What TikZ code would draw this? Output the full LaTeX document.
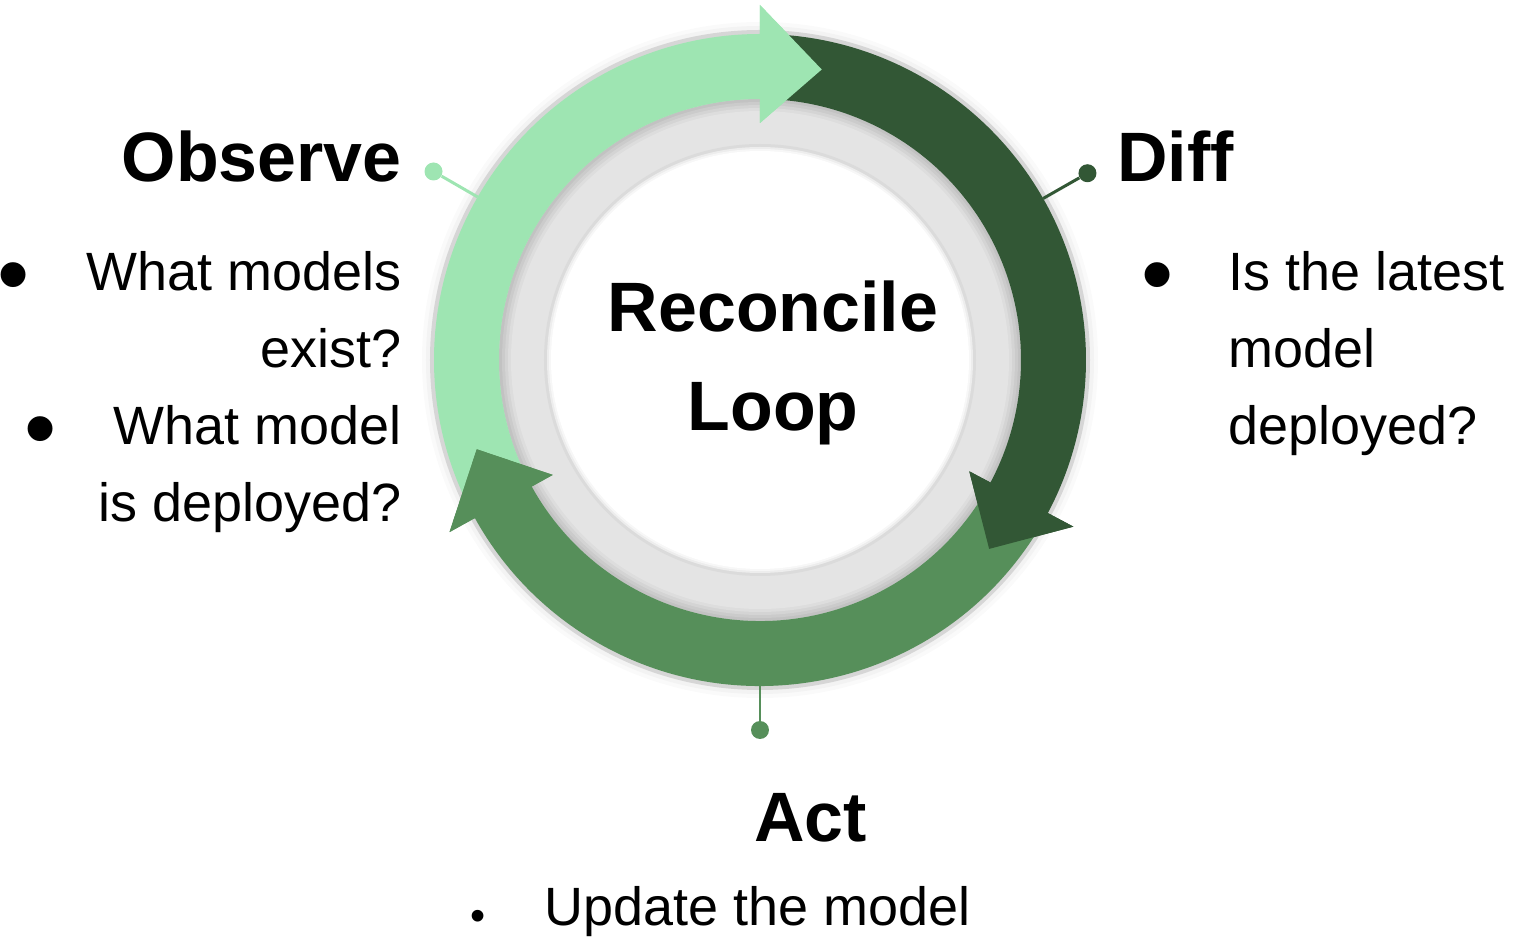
\documentclass[tikz,border=0pt]{standalone}
\usepackage{fontspec}
\setmainfont{Liberation Sans}

\definecolor{lgreen}{RGB}{158,229,178}
\definecolor{dgreen}{RGB}{50,87,53}
\definecolor{mgreen}{RGB}{86,143,90}
\definecolor{ringgray}{RGB}{228,228,228}

\newcommand{\hdfont}{\fontsize{39.8}{56.9}\selectfont\bfseries}
\newcommand{\txtfont}{\fontsize{30.7}{43.8}\selectfont}
\newcommand{\blt}[1][1.07em]{\llap{\raisebox{-0.28em}{\scalebox{1.7}{\textbullet}}\hspace{#1}}}

\tikzset{
	hd/.style={font=\hdfont, inner sep=0pt},
	txt/.style={font=\txtfont, inner sep=0pt},
	dot/.style={circle, inner sep=0pt, minimum size=0.36cm},
	leader/.style={line width=1.7pt}
}

\begin{document}
\begin{tikzpicture}[x=0.02cm, y=0.02cm]

\useasboundingbox (-760,-582) rectangle (758,360);

\foreach \r/\c in {338/white!82!ringgray, 334/white!55!ringgray, 330/ringgray!94!black,
	261/ringgray!85!black, 258/ringgray!89!black, 255/ringgray!93!black, 252/ringgray!97!black, 249/ringgray,
	216/ringgray!96!black, 213/white!35!ringgray, 211/white!70!ringgray, 209/white} {
	\fill[\c] (0,0) circle[radius=\r];
}

\foreach \s/\b/\t/\col in {205/90/78/lgreen, 86/-28/-39.5/dgreen, -32/-151/-162.5/mgreen} {
	\fill[\col] (\s:326) arc[start angle=\s, end angle=\b, radius=326] -- (\b:355) -- (\t:297) -- (\b:237) -- (\b:261) arc[start angle=\b, end angle=\s, radius=261] -- cycle;
}
\foreach \b/\t/\col in {90/78/lgreen, -28/-39.5/dgreen, -151/-162.5/mgreen} {
	\fill[\col] (\b:355) -- (\t:297) -- (\b:237) -- cycle;
}

\foreach \a/\r/\col/\n in {150/377/lgreen/obs, 29.7/377/dgreen/dif, 270/370/mgreen/act} {
	\coordinate (\n ring) at (\a:326);
	\node[dot, fill=\col] (\n dot) at (\a:\r) {};
	\draw[leader, \col] (\n ring) -- (\n dot);
}

\node[hd, align=center, anchor=north] (title) at (13,80) {Reconcile\\Loop};

\node[hd, anchor=base east] (observe) at (-358,178) {Observe};
\node[hd, anchor=base west] (diff) at (357,178) {Diff};
\node[hd, anchor=base west] (act) at (-6,-481) {Act};

\node[txt, align=right, anchor=north east] (obsitems) at (-358,109) {\blt What models\\exist?\\\blt What model\\is deployed?};
\node[txt, align=left, anchor=north west] (diffitems) at (468,109) {\blt[1.02em]Is the latest\\model\\deployed?};
\node[txt, anchor=base west] (actitems) at (-216,-565) {\llap{\raisebox{-0.11em}{\scalebox{0.8}{\textbullet}}\hspace{1.08em}}Update the model};

\end{tikzpicture}
\end{document}
